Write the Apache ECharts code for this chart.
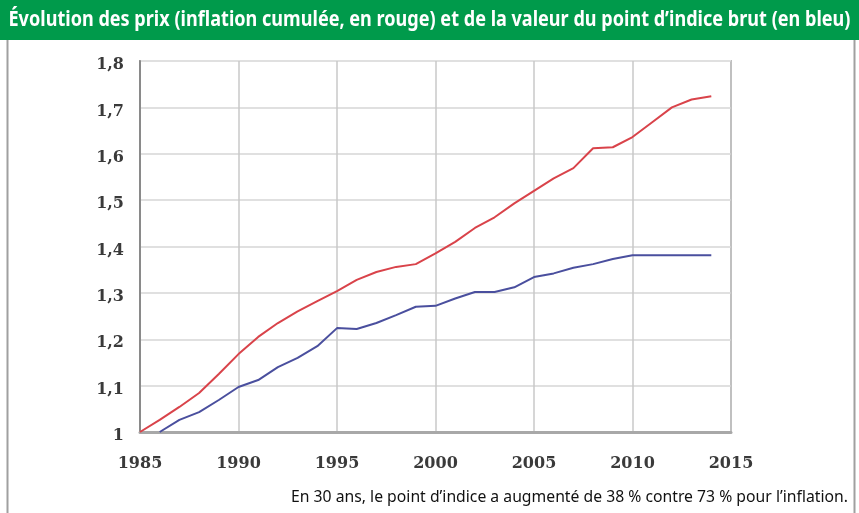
<!DOCTYPE html>
<html><head><meta charset="utf-8">
<script src="https://cdn.jsdelivr.net/npm/echarts@6/dist/echarts.min.js"></script>
<style>html,body{margin:0;padding:0;background:#fff}#c{width:859px;height:513px}</style>
</head><body><div id="c"></div>
<script>
const years = [1985,1986,1987,1988,1989,1990,1991,1992,1993,1994,1995,1996,1997,1998,1999,2000,2001,2002,2003,2004,2005,2006,2007,2008,2009,2010,2011,2012,2013,2014];
const inflation = [1.0,1.026,1.054,1.084,1.125,1.168,1.205,1.235,1.26,1.282,1.304,1.328,1.345,1.356,1.362,1.385,1.41,1.44,1.463,1.493,1.52,1.547,1.569,1.612,1.614,1.636,1.668,1.70,1.717,1.724];
const indice = [null,1.0,1.026,1.043,1.069,1.097,1.112,1.14,1.16,1.185,1.224,1.222,1.235,1.252,1.27,1.272,1.288,1.302,1.302,1.312,1.334,1.342,1.354,1.362,1.373,1.381,1.381,1.381,1.381,1.381];
const yTicks = [1,1.1,1.2,1.3,1.4,1.5,1.6,1.7,1.8];
const xTicks = [1985,1990,1995,2000,2005,2010,2015];
const titleText = "Évolution des prix (inflation cumulée, en rouge) et de la valeur du point d’indice brut (en bleu)";
const noteText = "En 30 ans, le point d’indice a augmenté de 38 % contre 73 % pour l’inflation.";

const cv = document.createElement('canvas').getContext('2d');
function textW(text, font){ cv.font = font; return cv.measureText(text).width; }
const titleFont = 'bold 21px "Noto Sans", sans-serif';
const noteFont = '16px "Noto Sans", sans-serif';
const tScale = 842 / textW(titleText, titleFont);
const nScale = 557 / textW(noteText, noteFont);

const chart = echarts.init(document.getElementById('c'), null, {renderer:'canvas'});
chart.setOption({
  animation:false,
  graphic:[
    {type:'rect', shape:{x:7.5,y:0,width:847,height:520}, style:{fill:'#fff',stroke:'#a0a0a0',lineWidth:2}, z:-10},
    {type:'rect', shape:{x:0,y:0,width:859,height:40}, style:{fill:'#009a4b'}, z:-5},
    {type:'text', x:429.5, y:20, scaleX:tScale, style:{text:titleText, fill:'#fff', font:titleFont, textAlign:'center', textVerticalAlign:'middle'}},
    {type:'text', x:848, y:497, scaleX:nScale, style:{text:noteText, fill:'#111', font:noteFont, textAlign:'right', textVerticalAlign:'middle'}}
  ],
  grid:{left:140, top:61, right:128, bottom:81, show:true, borderColor:'#8a8a8a', borderWidth:1.5, backgroundColor:'transparent'},
  xAxis:{type:'value', min:1985, max:2015, interval:5,
    axisLine:{show:true, lineStyle:{color:'#a8a8a8', width:3}},
    axisTick:{show:false},
    splitLine:{show:true, lineStyle:{color:'#c8c8c8', width:1.5}},
    axisLabel:{color:'#3a3a3a', fontFamily:'DejaVu Serif', fontWeight:'bold', fontSize:16, margin:24, formatter:v=>String(v)}},
  yAxis:{type:'value', min:1, max:1.8, interval:0.1,
    axisLine:{show:true, lineStyle:{color:'#8a8a8a', width:2}},
    axisTick:{show:false},
    splitLine:{show:true, lineStyle:{color:'#e0e0e0', width:2}},
    axisLabel:{color:'#3a3a3a', fontFamily:'DejaVu Serif', fontWeight:'bold', fontSize:16, margin:16, verticalAlign:'top', padding:[-4,0,0,0],
      formatter:v=>{const r=Math.round(v*10)/10; return r===1?'1':String(r).replace('.',',');}}},
  series:[
    {type:'line', data:years.map((y,i)=>[y,inflation[i]]), showSymbol:false, lineStyle:{color:'#d9434a', width:2}, z:3},
    {type:'line', data:years.map((y,i)=>[y,indice[i]]), showSymbol:false, lineStyle:{color:'#4a4f9e', width:2}, z:3}
  ]
});
</script></body></html>
